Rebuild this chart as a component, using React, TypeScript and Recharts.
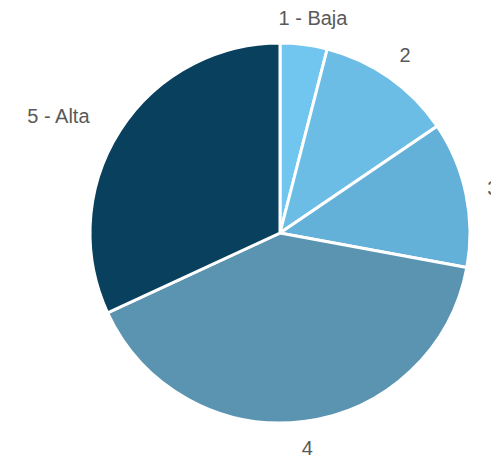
import { Cell, Pie, PieChart } from 'recharts';

const categories = ['1 - Baja', '2', '3', '4', '5 - Alta'];
const values = [4.0, 11.5, 12.4, 40.2, 31.9];
const colors = ['#70c6ee', '#6bbde6', '#63b0d8', '#5b94b1', '#08405e'];

const data = categories.map((name, i) => ({ name, value: values[i] }));

const RADIAN = Math.PI / 180;

function renderLabel(props: any) {
  const { cx, cy, midAngle, outerRadius, name } = props;
  const r = outerRadius + 21;
  const cos = Math.cos(-midAngle * RADIAN);
  const sin = Math.sin(-midAngle * RADIAN);
  const x = cx + r * cos;
  const y = cy + r * sin;
  // push the label box outward so its nearest edge sits on the radius
  const w = String(name).length * 13;
  const h = 12;
  const lx = x + (w / 2) * cos;
  const ly = y + (h / 2) * sin;
  return (
    <text
      x={lx}
      y={ly}
      fill="#595959"
      fontSize={20}
      fontFamily="'Liberation Sans', Arial, sans-serif"
      textAnchor="middle"
      dominantBaseline="central"
    >
      {name}
    </text>
  );
}

export default function App() {
  return (
    <div style={{ position: 'absolute', top: 0, left: 0, width: 491, height: 460, background: '#fff' }}>
      <PieChart width={491} height={460}>
        <Pie
          data={data}
          dataKey="value"
          nameKey="name"
          cx={275}
          cy={228}
          outerRadius={190}
          startAngle={90}
          endAngle={-270}
          stroke="#ffffff"
          strokeWidth={3}
          label={renderLabel}
          labelLine={false}
          isAnimationActive={false}
        >
          {data.map((entry, i) => (
            <Cell key={entry.name} fill={colors[i]} />
          ))}
        </Pie>
      </PieChart>
    </div>
  );
}
